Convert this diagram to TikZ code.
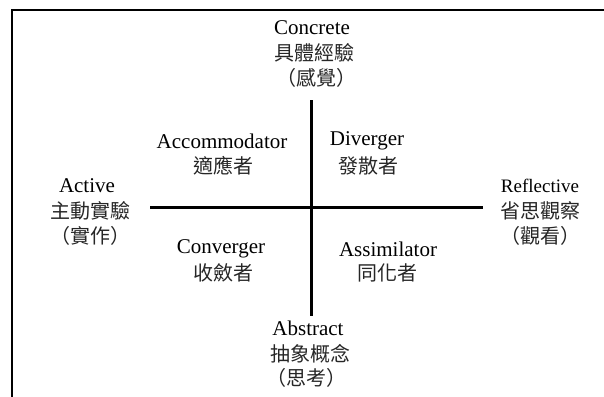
\documentclass[tikz,border=0pt]{standalone}
\usepackage{fontspec}
\setmainfont{Liberation Serif}
\newfontfamily\cjk{Noto Sans CJK TC}
\begin{document}
\begin{tikzpicture}[x=1pt,y=-1pt,
  en/.style={inner sep=0pt,anchor=center,font=\rmfamily\fontsize{21}{25}\selectfont},
  ens/.style={inner sep=0pt,anchor=center,font=\rmfamily\fontsize{19}{23}\selectfont},
  zh/.style={inner sep=0pt,anchor=center,text=black!85,font=\cjk\fontsize{20}{24}\selectfont},
  axis/.style={line width=2.6pt},
  frame/.style={line width=2.2pt}]
\useasboundingbox (0,0) rectangle (604,396);
\draw[frame] (12,400) -- (12,10) -- (610,10);
% top
\node[en] (conc) at (312,28) {Concrete};
\node[zh] (concz) at (314,53) {具體經驗};
\node[zh] (concp) at (316,78) {（感覺）};
% bottom
\node[en] (abs) at (308,328) {Abstract};
\node[zh] (absz) at (310,354) {抽象概念};
\node[zh] (absp) at (306,378) {（思考）};
% left
\node[en] (act) at (87,186) {Active};
\node[zh] (actz) at (90,211) {主動實驗};
\node[zh] (actp) at (90,236) {（實作）};
% right
\node[ens] (ref) at (540,186) {Reflective};
\node[zh] (refz) at (540,211) {省思觀察};
\node[zh] (refp) at (540,236) {（觀看）};
% quadrants
\node[en] (acc) at (222,141) {Accommodator};
\node[zh] (accz) at (223,166) {適應者};
\node[en] (div) at (367,141) {Diverger};
\node[zh] (divz) at (368,166) {發散者};
\node[en] (conv) at (221,249) {Converger};
\node[zh] (convz) at (223,273) {收斂者};
\node[en] (ass) at (388,249) {Assimilator};
\node[zh] (assz) at (387,273) {同化者};
% axes
\coordinate (vt) at (311.5,100);
\coordinate (vb) at (311.5,316);
\coordinate (hl) at (150,207.5);
\coordinate (hr) at (483,207.5);
\draw[axis] (vt) -- (vb);
\draw[axis] (hl) -- (hr);
\end{tikzpicture}
\end{document}
